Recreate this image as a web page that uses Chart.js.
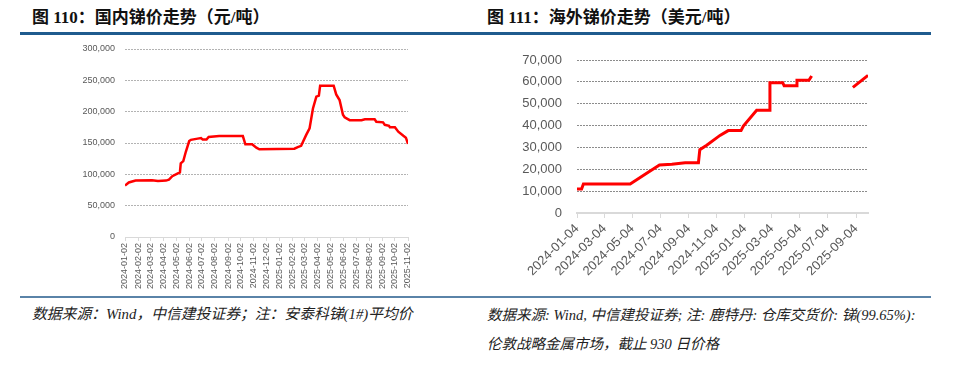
<!DOCTYPE html>
<html>
<head>
<meta charset="utf-8">
<script src="https://cdn.jsdelivr.net/npm/chart.js@4.4.1/dist/chart.umd.min.js"></script>
<style>
  body { margin: 0; width: 960px; height: 366px; background: #fff; position: relative; overflow: hidden; }
  .title { position: absolute; top: 8px; font: bold 17px/20px "Liberation Serif", "Noto Sans CJK SC", sans-serif; color: #111; white-space: nowrap; }
  .rule { position: absolute; top: 32px; height: 3px; background: #1f5b8e; }
  .rule2 { position: absolute; top: 296px; height: 2px; background: #5a83a8; }
  .note { position: absolute; font: italic 15px/20px "Liberation Serif", "Noto Sans CJK SC", serif; color: #222; white-space: nowrap; }
  canvas { position: absolute; }
</style>
</head>
<body>
<div class="title" style="left:32px">图 110：国内锑价走势（元/吨）</div>
<div class="title" style="left:487px">图 111：海外锑价走势（美元/吨）</div>
<div class="rule" style="left:20px;width:460px"></div>
<div class="rule" style="left:480px;width:451px"></div>
<canvas id="left" width="480" height="260" style="left:0;top:40px"></canvas>
<canvas id="right" width="480" height="250" style="left:480px;top:45px"></canvas>
<div class="rule2" style="left:20px;width:460px"></div>
<div class="rule2" style="left:480px;width:451px"></div>
<div class="note" style="left:32px;top:304px;font-size:14.8px">数据来源：Wind，中信建投证券；注：安泰科锑(1#)平均价</div>
<div class="note" style="left:487px;top:305px;font-size:14.5px">数据来源: Wind, 中信建投证券; 注: 鹿特丹: 仓库交货价: 锑(99.65%):</div>
<div class="note" style="left:487px;top:334px;font-size:14.5px">伦敦战略金属市场，截止 930 日价格</div>
<script>
// 国内锑价 (元/吨)
const leftDates = ['2024-01-02','2024-01-11','2024-01-27','2024-03-06','2024-03-20','2024-04-08','2024-04-15','2024-04-23',
  '2024-05-05','2024-05-11','2024-05-13','2024-05-19','2024-05-25','2024-06-02','2024-06-06','2024-06-22','2024-06-30',
  '2024-07-04','2024-07-13','2024-07-18','2024-08-12','2024-10-07','2024-10-13','2024-10-29','2024-11-08','2024-11-15',
  '2025-02-06','2025-02-14','2025-02-22','2025-03-06','2025-03-14','2025-03-22','2025-03-30','2025-04-05','2025-04-08',
  '2025-05-10','2025-05-16','2025-05-24','2025-06-01','2025-06-05','2025-06-17','2025-07-15','2025-07-23','2025-08-15',
  '2025-08-19','2025-09-04','2025-09-08','2025-09-18','2025-09-20','2025-10-02','2025-10-10','2025-10-22','2025-10-28','2025-11-02'];
const leftPrices = [82000,87000,90000,90500,89500,90000,91500,97000,
  101000,103000,117500,121000,136000,153000,155000,157000,158000,
  155500,155500,159500,161000,161000,148000,148000,142500,140000,
  141000,143500,145500,163000,173500,205000,224000,225500,241500,
  241500,227500,218500,195000,191000,186500,186500,188000,188000,
  184000,183000,179000,177500,175000,175000,168000,161500,158500,148500];
const leftTicks = ['2024-01-02','2024-02-02','2024-03-02','2024-04-02','2024-05-02','2024-06-02','2024-07-02','2024-08-02',
  '2024-09-02','2024-10-02','2024-11-02','2024-12-02','2025-01-02','2025-02-02','2025-03-02','2025-04-02','2025-05-02',
  '2025-06-02','2025-07-02','2025-08-02','2025-09-02','2025-10-02','2025-11-02'];

// 海外锑价 (美元/吨), null = 缺数
const rightDates = ['2024-01-04','2024-01-14','2024-01-18','2024-04-29','2024-06-04','2024-07-02','2024-07-29','2024-08-27',
  '2024-09-25','2024-09-28','2024-10-13','2024-11-11','2024-11-29','2024-12-27','2025-01-01','2025-01-30','2025-02-27',
  '2025-02-28','2025-03-28','2025-03-31','2025-04-26','2025-04-28','2025-05-24','2025-05-30','2025-07-15','2025-08-28','2025-09-30'];
const rightPrices = [11000,11000,13300,13300,18200,22000,22300,23000,
  23000,29000,31000,35500,37700,37700,39800,47000,47000,
  59600,59600,58200,58200,60700,60700,62700,null,57500,63000];
const rightTicks = ['2024-01-04','2024-03-04','2024-05-04','2024-07-04','2024-09-04','2024-11-04',
  '2025-01-04','2025-03-04','2025-05-04','2025-07-04','2025-09-04'];

function dayNum(s) {
  const [y, m, d] = s.split('-').map(Number);
  return Date.UTC(y, m - 1, d) / 86400000;
}
const fmt = v => String(v).replace(/\B(?=(\d{3})+(?!\d))/g, ',');

function makeChart(id, cfg) {
  return new Chart(document.getElementById(id), {
    type: 'line',
    data: {
      datasets: [{
        data: cfg.dates.map((d, i) => ({ x: dayNum(d), y: cfg.prices[i] })),
        borderColor: '#f00',
        borderWidth: cfg.lineW,
        pointRadius: 0,
        tension: 0,
        spanGaps: false
      }]
    },
    options: {
      responsive: false,
      animation: false,
      devicePixelRatio: 1,
      layout: { padding: cfg.pad },
      plugins: { legend: { display: false }, tooltip: { enabled: false } },
      scales: {
        x: {
          type: 'linear',
          min: dayNum(cfg.ticks[0]),
          max: cfg.xMax,
          afterBuildTicks: s => { s.ticks = cfg.ticks.map(t => ({ value: dayNum(t) })); },
          afterFit: s => { s.height = cfg.xH; s.paddingTop = 0; s.paddingBottom = 0; },
          ticks: {
            autoSkip: false,
            minRotation: cfg.rot, maxRotation: cfg.rot,
            padding: cfg.xPad,
            color: '#595959',
            font: { family: 'Liberation Sans', size: cfg.xFont },
            callback: (v, i) => cfg.ticks[i]
          },
          grid: { drawOnChartArea: false, drawTicks: true, tickLength: cfg.tickLen, color: '#d9d9d9' },
          border: { color: '#d9d9d9', width: cfg.axisW }
        },
        y: {
          min: 0, max: cfg.yMax,
          // keep the plot top where padding puts it
          afterFit: s => { s.width = cfg.yW; s.paddingTop = 0; s.paddingBottom = 0; },
          ticks: {
            stepSize: cfg.step,
            padding: cfg.yPad,
            color: '#595959',
            font: { family: 'Liberation Sans', size: cfg.yFont },
            callback: v => fmt(v)
          },
          grid: {
            drawTicks: false,
            color: c => c.tick.value === 0 ? 'rgba(0,0,0,0)' : cfg.gridColor
          },
          border: { display: false, dash: [2, 1] }
        }
      }
    }
  });
}

makeChart('left', {
  dates: leftDates, prices: leftPrices, ticks: leftTicks,
  xMax: dayNum('2025-11-02'), yMax: 300000, step: 50000,
  pad: { left: 0, right: 72, top: 9, bottom: 0 },
  xH: 63, yW: 125, rot: 90, xPad: 2, tickLen: 4, axisW: 1,
  xFont: 9, yFont: 9, yPad: 10, lineW: 2.5, gridColor: '#b3b3b3'
});

makeChart('right', {
  dates: rightDates, prices: rightPrices, ticks: rightTicks,
  xMax: dayNum('2025-09-30'), yMax: 70000, step: 10000,
  pad: { left: 0, right: 92, top: 15, bottom: 0 },
  xH: 82, yW: 97, rot: 45, xPad: 3, tickLen: 5, axisW: 2,
  xFont: 13, yFont: 13, yPad: 15, lineW: 3, gridColor: '#8c8c8c'
});
</script>
</body>
</html>
